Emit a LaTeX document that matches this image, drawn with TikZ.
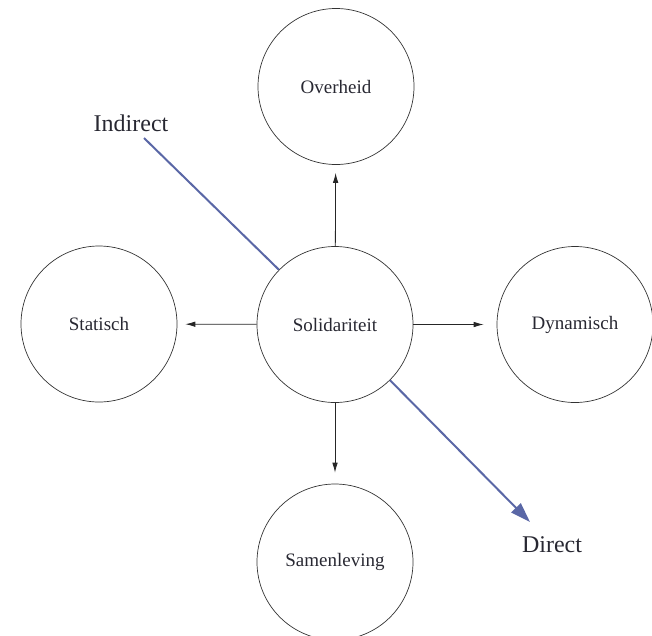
\documentclass[tikz,border=0pt]{standalone}
\usepackage{fontspec}
\setmainfont{Liberation Serif}
\usetikzlibrary{arrows.meta}
\definecolor{dirblue}{RGB}{90,103,166}
\definecolor{txt}{RGB}{40,40,50}
\begin{document}
\begin{tikzpicture}[x=1pt,y=-1pt,
  circ/.style={circle,draw=black!80,line width=0.7pt,minimum size=156pt,inner sep=0pt,text=txt,font=\fontsize{19}{22}\selectfont},
  flow/.style={draw=black!85,line width=0.8pt,-{Latex[length=10pt,width=5.5pt]}},
  blueline/.style={draw=dirblue,line width=2pt},
  lab/.style={font=\fontsize{24}{28}\selectfont,inner sep=0pt,text=txt}]
\useasboundingbox (0,0) rectangle (652,635);
\node[circ] (sol) at (335,324.5) {Solidariteit};
\node[circ] (over) at (336,86.5) {Overheid};
\node[circ] (stat) at (99,324) {Statisch};
\node[circ] (dyn) at (575,324.5) {Dynamisch};
\node[circ] (sam) at (335,562) {Samenleving};
\draw[flow,shorten >=8pt] (sol) -- (over);
\draw[flow,shorten >=8pt] (sol) -- (stat);
\draw[flow,shorten >=13pt] (sol) -- (dyn);
\draw[flow,shorten >=11pt] (sol) -- (sam);
\coordinate (indend) at (144,138);
\coordinate (dirend) at (530,522);
\draw[blueline] (indend) -- (sol);
\draw[blueline,-{Triangle[length=20pt,width=13pt]}] (sol) -- (dirend);
\node[lab] (indlab) at (131,123) {Indirect};
\node[lab] (dirlab) at (552,545) {Direct};
\end{tikzpicture}
\end{document}
